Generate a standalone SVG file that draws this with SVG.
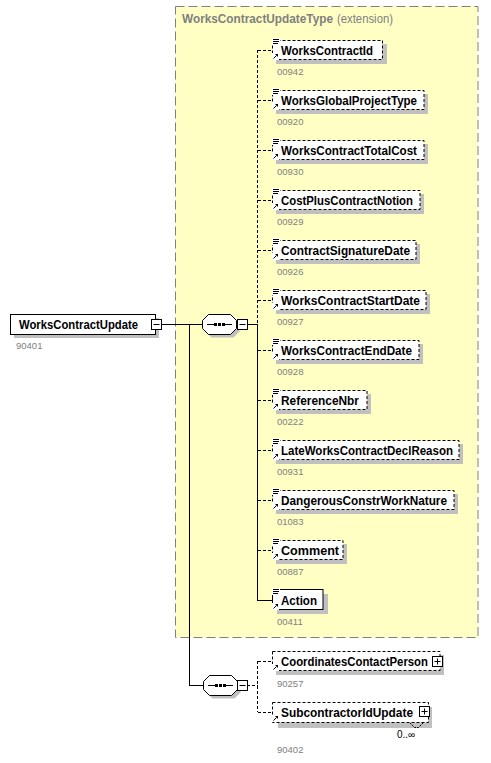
<svg xmlns="http://www.w3.org/2000/svg" width="491" height="763" viewBox="0 0 491 763">
<defs>
<style>
.lbl{font-family:"Liberation Sans",Arial,sans-serif;font-weight:bold;font-size:12.6px;fill:#000}
.num{font-family:"Liberation Sans",Arial,sans-serif;font-size:9.5px;fill:#808080}
.box{fill:#fff;stroke:#000;stroke-width:1;stroke-dasharray:3,2}
.sbox{fill:#fff;stroke:#000;stroke-width:1}
.shadow{fill:#c0c0c0}
.ln{fill:none;stroke:#000;stroke-width:1}
.dl{fill:none;stroke:#000;stroke-width:1;stroke-dasharray:3,2}
.ico{fill:#fff;stroke:none}
.icl{stroke:#000;stroke-width:1}
</style>
<g id="docicon">
<rect class="ico" x="0" y="0" width="8" height="7"/>
<line class="icl" x1="1" y1="1.5" x2="7" y2="1.5"/>
<line class="icl" x1="1" y1="3.5" x2="7" y2="3.5"/>
<line class="icl" x1="1" y1="5.5" x2="6" y2="5.5"/>
</g>
<g id="reficon">
<rect class="ico" x="0" y="0" width="7" height="7"/>
<line class="icl" x1="1.5" y1="5.5" x2="4.5" y2="2.5"/>
<polygon points="3,1 6,1 6,4" fill="#000"/>
</g>
<g id="octa">
<polygon points="6.5,0.5 28.5,0.5 34.5,6.5 34.5,14.5 28.5,20.5 6.5,20.5 0.5,14.5 0.5,6.5" fill="#fff" stroke="#000"/>
<line class="icl" x1="5" y1="10.5" x2="12" y2="10.5"/>
<line class="icl" x1="23" y1="10.5" x2="30" y2="10.5"/>
<rect x="12" y="9" width="3" height="3" fill="#000"/>
<rect x="16" y="9" width="3" height="3" fill="#000"/>
<rect x="20" y="9" width="3" height="3" fill="#000"/>
</g>
<g id="octashadow">
<polygon points="6.5,0.5 28.5,0.5 34.5,6.5 34.5,14.5 28.5,20.5 6.5,20.5 0.5,14.5 0.5,6.5" fill="#c0c0c0"/>
</g>
<g id="minus">
<rect x="0.5" y="0.5" width="10" height="10" fill="#fff" stroke="#000"/>
<line class="icl" x1="2.5" y1="5.5" x2="8.5" y2="5.5"/>
</g>
<g id="plus">
<rect x="0.5" y="0.5" width="10" height="10" fill="#fff" stroke="#000"/>
<line class="icl" x1="2.5" y1="5.5" x2="8.5" y2="5.5"/>
<line class="icl" x1="5.5" y1="2.5" x2="5.5" y2="8.5"/>
</g>
</defs>

<rect x="0" y="0" width="491" height="763" fill="#fff"/>

<g id="extension">
<rect x="175.5" y="6.5" width="302.5" height="631" fill="#ffffc4" stroke="#808080" stroke-dasharray="9,4"/>
<text x="182" y="23" font-family="Liberation Sans,Arial,sans-serif" font-size="12.6px"><tspan font-weight="bold" fill="#808080" textLength="151" lengthAdjust="spacingAndGlyphs">WorksContractUpdateType</tspan><tspan fill="#808080" dx="4" textLength="56" lengthAdjust="spacingAndGlyphs">(extension)</tspan></text>
</g>

<g id="connectors">
<line class="ln" x1="161" y1="324.5" x2="202" y2="324.5"/>
<line class="ln" x1="189.5" y1="324" x2="189.5" y2="685.5"/>
<line class="ln" x1="189" y1="685.5" x2="203" y2="685.5"/>
<line class="ln" x1="247" y1="324.5" x2="258" y2="324.5"/>
<line class="dl" x1="257.5" y1="50" x2="257.5" y2="324"/>
<line class="ln" x1="257.5" y1="324" x2="257.5" y2="600.5"/>
<line class="dl" x1="258" y1="50.5" x2="272" y2="50.5"/>
<line class="dl" x1="258" y1="100.5" x2="272" y2="100.5"/>
<line class="dl" x1="258" y1="150.5" x2="272" y2="150.5"/>
<line class="dl" x1="258" y1="200.5" x2="272" y2="200.5"/>
<line class="dl" x1="258" y1="250.5" x2="272" y2="250.5"/>
<line class="dl" x1="258" y1="300.5" x2="272" y2="300.5"/>
<line class="dl" x1="258" y1="350.5" x2="272" y2="350.5"/>
<line class="dl" x1="258" y1="400.5" x2="272" y2="400.5"/>
<line class="dl" x1="258" y1="450.5" x2="272" y2="450.5"/>
<line class="dl" x1="258" y1="500.5" x2="272" y2="500.5"/>
<line class="dl" x1="258" y1="550.5" x2="272" y2="550.5"/>
<line class="ln" x1="257" y1="600.5" x2="272" y2="600.5"/>
<line class="dl" x1="247" y1="685.5" x2="258" y2="685.5"/>
<line class="dl" x1="257.5" y1="661" x2="257.5" y2="712"/>
<line class="dl" x1="258" y1="661.5" x2="272" y2="661.5"/>
<line class="dl" x1="258" y1="712.5" x2="272" y2="712.5"/>
</g>

<g id="WorksContractUpdate">
<rect class="shadow" x="14" y="318" width="145" height="20"/>
<rect class="sbox" x="10.5" y="314.5" width="145" height="20"/>
<text class="lbl" x="19" y="329" textLength="119" lengthAdjust="spacingAndGlyphs">WorksContractUpdate</text>
<use href="#minus" x="151" y="319"/>
<text class="num" x="16" y="349">90401</text>
</g>

<g id="sequence1">
<use href="#octashadow" x="205" y="317"/>
<use href="#octa" x="202" y="314"/>
<use href="#minus" x="237" y="319"/>
</g>

<g id="sequence2">
<use href="#octashadow" x="206" y="678"/>
<use href="#octa" x="203" y="675"/>
<use href="#minus" x="237" y="680"/>
</g>

<g id="WorksContractId">
<rect class="shadow" x="276" y="44" width="111" height="20"/>
<rect class="box" x="272.5" y="40.5" width="110" height="19"/>
<use href="#docicon" x="272" y="38"/>
<use href="#reficon" x="272" y="53"/>
<text class="lbl" x="281" y="55" textLength="92" lengthAdjust="spacingAndGlyphs">WorksContractId</text>
<text class="num" x="277" y="75">00942</text>
</g>

<g id="WorksGlobalProjectType">
<rect class="shadow" x="276" y="94" width="152" height="20"/>
<rect class="box" x="272.5" y="90.5" width="151.5" height="19"/>
<use href="#docicon" x="272" y="88"/>
<use href="#reficon" x="272" y="103"/>
<text class="lbl" x="281" y="105" textLength="136" lengthAdjust="spacingAndGlyphs">WorksGlobalProjectType</text>
<text class="num" x="277" y="125">00920</text>
</g>

<g id="WorksContractTotalCost">
<rect class="shadow" x="276" y="144" width="152" height="20"/>
<rect class="box" x="272.5" y="140.5" width="151.5" height="19"/>
<use href="#docicon" x="272" y="138"/>
<use href="#reficon" x="272" y="153"/>
<text class="lbl" x="281" y="155" textLength="136" lengthAdjust="spacingAndGlyphs">WorksContractTotalCost</text>
<text class="num" x="277" y="175">00930</text>
</g>

<g id="CostPlusContractNotion">
<rect class="shadow" x="276" y="194" width="148" height="20"/>
<rect class="box" x="272.5" y="190.5" width="147.5" height="19"/>
<use href="#docicon" x="272" y="188"/>
<use href="#reficon" x="272" y="203"/>
<text class="lbl" x="281" y="205" textLength="132" lengthAdjust="spacingAndGlyphs">CostPlusContractNotion</text>
<text class="num" x="277" y="225">00929</text>
</g>

<g id="ContractSignatureDate">
<rect class="shadow" x="276" y="244" width="144" height="20"/>
<rect class="box" x="272.5" y="240.5" width="143.5" height="19"/>
<use href="#docicon" x="272" y="238"/>
<use href="#reficon" x="272" y="253"/>
<text class="lbl" x="281" y="255" textLength="129" lengthAdjust="spacingAndGlyphs">ContractSignatureDate</text>
<text class="num" x="277" y="275">00926</text>
</g>

<g id="WorksContractStartDate">
<rect class="shadow" x="276" y="294" width="154" height="20"/>
<rect class="box" x="272.5" y="290.5" width="153.5" height="19"/>
<use href="#docicon" x="272" y="288"/>
<use href="#reficon" x="272" y="303"/>
<text class="lbl" x="281" y="305" textLength="139" lengthAdjust="spacingAndGlyphs">WorksContractStartDate</text>
<text class="num" x="277" y="325">00927</text>
</g>

<g id="WorksContractEndDate">
<rect class="shadow" x="276" y="344" width="147" height="20"/>
<rect class="box" x="272.5" y="340.5" width="146.5" height="19"/>
<use href="#docicon" x="272" y="338"/>
<use href="#reficon" x="272" y="353"/>
<text class="lbl" x="281" y="355" textLength="131" lengthAdjust="spacingAndGlyphs">WorksContractEndDate</text>
<text class="num" x="277" y="375">00928</text>
</g>

<g id="ReferenceNbr">
<rect class="shadow" x="276" y="394" width="95" height="20"/>
<rect class="box" x="272.5" y="390.5" width="94.5" height="19"/>
<use href="#docicon" x="272" y="388"/>
<use href="#reficon" x="272" y="403"/>
<text class="lbl" x="281" y="405" textLength="78" lengthAdjust="spacingAndGlyphs">ReferenceNbr</text>
<text class="num" x="277" y="425">00222</text>
</g>

<g id="LateWorksContractDeclReason">
<rect class="shadow" x="276" y="444" width="187" height="20"/>
<rect class="box" x="272.5" y="440.5" width="186.5" height="19"/>
<use href="#docicon" x="272" y="438"/>
<use href="#reficon" x="272" y="453"/>
<text class="lbl" x="281" y="455" textLength="172" lengthAdjust="spacingAndGlyphs">LateWorksContractDeclReason</text>
<text class="num" x="277" y="475">00931</text>
</g>

<g id="DangerousConstrWorkNature">
<rect class="shadow" x="276" y="494" width="182" height="20"/>
<rect class="box" x="272.5" y="490.5" width="181.5" height="19"/>
<use href="#docicon" x="272" y="488"/>
<use href="#reficon" x="272" y="503"/>
<text class="lbl" x="281" y="505" textLength="166" lengthAdjust="spacingAndGlyphs">DangerousConstrWorkNature</text>
<text class="num" x="277" y="525">01083</text>
</g>

<g id="Comment">
<rect class="shadow" x="276" y="544" width="71" height="20"/>
<rect class="box" x="272.5" y="540.5" width="70.5" height="19"/>
<use href="#docicon" x="272" y="538"/>
<use href="#reficon" x="272" y="553"/>
<text class="lbl" x="281" y="555" textLength="58" lengthAdjust="spacingAndGlyphs">Comment</text>
<text class="num" x="277" y="575">00887</text>
</g>

<g id="Action">
<rect class="shadow" x="277" y="594" width="51" height="20"/>
<rect class="sbox" x="272.5" y="589.5" width="50.5" height="20"/>
<use href="#docicon" x="272" y="588"/>
<use href="#reficon" x="272" y="603"/>
<text class="lbl" x="281" y="605" textLength="36" lengthAdjust="spacingAndGlyphs">Action</text>
<text class="num" x="277" y="625">00411</text>
</g>

<g id="CoordinatesContactPerson">
<rect class="shadow" x="276" y="655" width="168" height="20"/>
<rect class="box" x="272.5" y="651.5" width="167.5" height="19"/>
<use href="#reficon" x="272" y="664"/>
<text class="lbl" x="281" y="666" textLength="147" lengthAdjust="spacingAndGlyphs">CoordinatesContactPerson</text>
<use href="#plus" x="432" y="656"/>
<text class="num" x="277" y="687">90257</text>
</g>

<g id="SubcontractorIdUpdate">
<rect class="shadow" x="278" y="707" width="154" height="21"/>
<rect class="box" x="272.5" y="702.5" width="156" height="20"/>
<use href="#reficon" x="272" y="715"/>
<text class="lbl" x="281" y="717" textLength="132" lengthAdjust="spacingAndGlyphs">SubcontractorIdUpdate</text>
<use href="#plus" x="419" y="706"/>
<polyline points="410,723 414.5,727.5 418.5,727.5 423,723" fill="none" stroke="#000" stroke-dasharray="2,1"/>
<text x="397" y="738" font-family="Liberation Sans,Arial,sans-serif" font-size="10px" fill="#000">0..∞</text>
<text class="num" x="277" y="753">90402</text>
</g>
</svg>
